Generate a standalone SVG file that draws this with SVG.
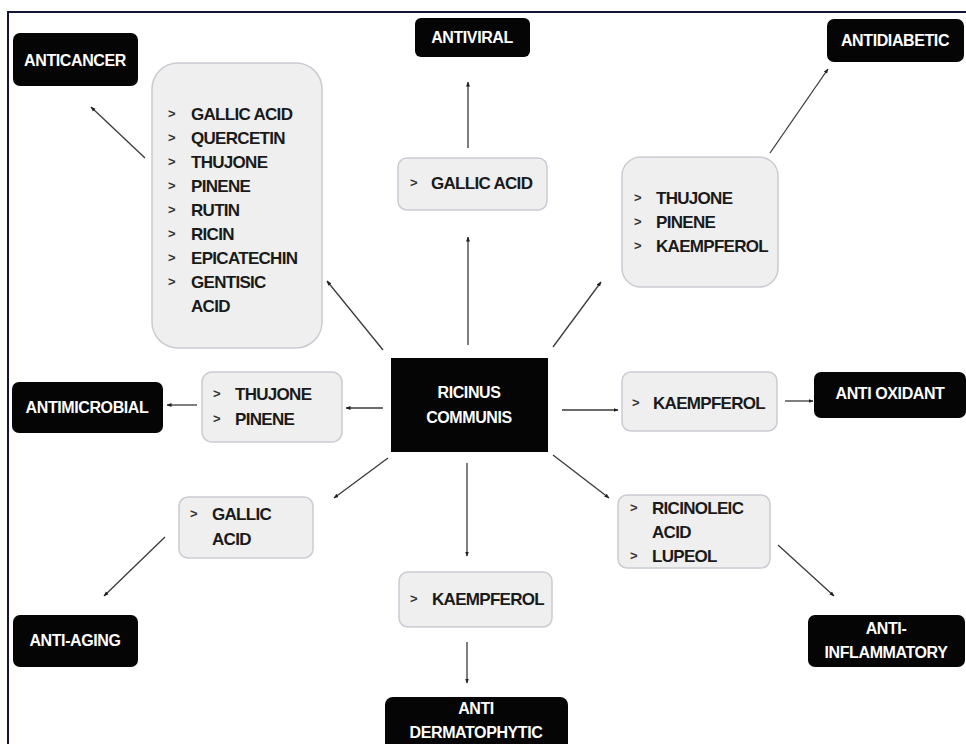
<svg xmlns="http://www.w3.org/2000/svg" width="966" height="744" viewBox="0 0 966 744">
<style>
.blk{fill:#050505;}
.lbl{fill:#ffffff;font-family:"Liberation Sans",Arial,sans-serif;font-weight:bold;font-size:16px;text-anchor:middle;letter-spacing:-0.4px;}
.box{fill:#efefef;stroke:#c9ccd2;stroke-width:1.5;}
.itm{fill:#1a1a1a;font-family:"Liberation Sans",Arial,sans-serif;font-weight:bold;font-size:17px;letter-spacing:-0.7px;}
.bul{fill:#333;font-family:"Liberation Sans",Arial,sans-serif;font-weight:bold;font-size:13px;}
.con{stroke:#3a3a3a;stroke-width:1.3;fill:none;marker-end:url(#ah);}
</style>
<defs>
<marker id="ah" viewBox="0 0 10 10" refX="9" refY="5" markerWidth="5" markerHeight="5" orient="auto" markerUnits="userSpaceOnUse">
<path d="M0,1 L10,5 L0,9 z" fill="#222"/>
</marker>
</defs>
<rect width="966" height="744" fill="#ffffff"/>
<path d="M8,744 L8,12 L966,12" fill="none" stroke="#15153a" stroke-width="2"/>

<g id="connectors">
<line class="con" x1="468" y1="148" x2="468" y2="82"/>
<line class="con" x1="468" y1="345" x2="468" y2="237"/>
<line class="con" x1="553" y1="347" x2="601" y2="282"/>
<line class="con" x1="770" y1="153" x2="828" y2="69"/>
<line class="con" x1="145" y1="158" x2="91" y2="107"/>
<line class="con" x1="383" y1="350" x2="327" y2="281"/>
<line class="con" x1="383" y1="408" x2="346" y2="408"/>
<line class="con" x1="197" y1="405" x2="167" y2="405"/>
<line class="con" x1="388" y1="458" x2="334" y2="498"/>
<line class="con" x1="165" y1="537" x2="104" y2="596"/>
<line class="con" x1="467" y1="463" x2="467" y2="556"/>
<line class="con" x1="467" y1="642" x2="467" y2="683"/>
<line class="con" x1="562" y1="410" x2="618" y2="410"/>
<line class="con" x1="785" y1="401" x2="813" y2="401"/>
<line class="con" x1="553" y1="455" x2="609" y2="498"/>
<line class="con" x1="778" y1="545" x2="834" y2="596"/>
</g>

<g id="center">
<rect class="blk" x="391" y="358" width="157" height="94"/>
<text class="lbl" x="469" y="398">RICINUS</text>
<text class="lbl" x="469" y="423">COMMUNIS</text>
</g>

<g id="anticancer">
<rect class="blk" x="13" y="33" width="125" height="53" rx="7"/>
<text class="lbl" x="75" y="66">ANTICANCER</text>
</g>
<g id="anticancer-compounds">
<rect class="box" x="152" y="63" width="170" height="285" rx="26"/>
<g class="bul"><text x="168" y="118">&gt;</text><text x="168" y="142">&gt;</text><text x="168" y="166">&gt;</text><text x="168" y="190">&gt;</text><text x="168" y="214">&gt;</text><text x="168" y="238">&gt;</text><text x="168" y="262">&gt;</text><text x="168" y="286">&gt;</text></g>
<g class="itm">
<text x="191" y="120">GALLIC ACID</text>
<text x="191" y="144">QUERCETIN</text>
<text x="191" y="168">THUJONE</text>
<text x="191" y="192">PINENE</text>
<text x="191" y="216">RUTIN</text>
<text x="191" y="240">RICIN</text>
<text x="191" y="264">EPICATECHIN</text>
<text x="191" y="288">GENTISIC</text>
<text x="191" y="312">ACID</text>
</g>
</g>

<g id="antiviral">
<rect class="blk" x="415" y="18" width="115" height="39" rx="6"/>
<text class="lbl" x="472" y="43">ANTIVIRAL</text>
</g>
<g id="antiviral-compounds">
<rect class="box" x="398" y="158" width="149" height="52" rx="9"/>
<text class="bul" x="410" y="187">&gt;</text>
<text class="itm" x="431" y="189">GALLIC ACID</text>
</g>

<g id="antidiabetic">
<rect class="blk" x="827" y="19" width="137" height="43" rx="7"/>
<text class="lbl" x="895" y="46">ANTIDIABETIC</text>
</g>
<g id="antidiabetic-compounds">
<rect class="box" x="622" y="157" width="156" height="130" rx="19"/>
<g class="bul"><text x="634" y="202">&gt;</text><text x="634" y="226">&gt;</text><text x="634" y="250">&gt;</text></g>
<g class="itm">
<text x="656" y="204">THUJONE</text>
<text x="656" y="228">PINENE</text>
<text x="656" y="252">KAEMPFEROL</text>
</g>
</g>

<g id="antimicrobial">
<rect class="blk" x="12" y="382" width="151" height="51" rx="7"/>
<text class="lbl" x="87" y="413">ANTIMICROBIAL</text>
</g>
<g id="antimicrobial-compounds">
<rect class="box" x="202" y="372" width="140" height="70" rx="10"/>
<g class="bul"><text x="213" y="398">&gt;</text><text x="213" y="423">&gt;</text></g>
<g class="itm">
<text x="235" y="400">THUJONE</text>
<text x="235" y="425">PINENE</text>
</g>
</g>

<g id="antioxidant">
<rect class="blk" x="814" y="372" width="152" height="46" rx="7"/>
<text class="lbl" x="890" y="399">ANTI OXIDANT</text>
</g>
<g id="antioxidant-compounds">
<rect class="box" x="622" y="372" width="155" height="59" rx="9"/>
<text class="bul" x="632" y="407">&gt;</text>
<text class="itm" x="653" y="409">KAEMPFEROL</text>
</g>

<g id="antiaging">
<rect class="blk" x="13" y="615" width="125" height="52" rx="7"/>
<text class="lbl" x="75" y="646">ANTI-AGING</text>
</g>
<g id="antiaging-compounds">
<rect class="box" x="179" y="497" width="134" height="61" rx="9"/>
<g class="bul"><text x="190" y="518">&gt;</text></g>
<g class="itm">
<text x="212" y="520">GALLIC</text>
<text x="212" y="545">ACID</text>
</g>
</g>

<g id="antidermatophytic">
<rect class="blk" x="385" y="697" width="183" height="60" rx="8"/>
<text class="lbl" x="476" y="714">ANTI</text>
<text class="lbl" x="476" y="738">DERMATOPHYTIC</text>
</g>
<g id="antidermatophytic-compounds">
<rect class="box" x="399" y="572" width="153" height="55" rx="9"/>
<text class="bul" x="410" y="603">&gt;</text>
<text class="itm" x="432" y="605">KAEMPFEROL</text>
</g>

<g id="antiinflammatory">
<rect class="blk" x="808" y="615" width="157" height="52" rx="7"/>
<text class="lbl" x="886" y="634">ANTI-</text>
<text class="lbl" x="886" y="658">INFLAMMATORY</text>
</g>
<g id="antiinflammatory-compounds">
<rect class="box" x="618" y="495" width="152" height="73" rx="9"/>
<g class="bul"><text x="630" y="512">&gt;</text><text x="630" y="560">&gt;</text></g>
<g class="itm">
<text x="652" y="514">RICINOLEIC</text>
<text x="652" y="538">ACID</text>
<text x="652" y="562">LUPEOL</text>
</g>
</g>
</svg>
